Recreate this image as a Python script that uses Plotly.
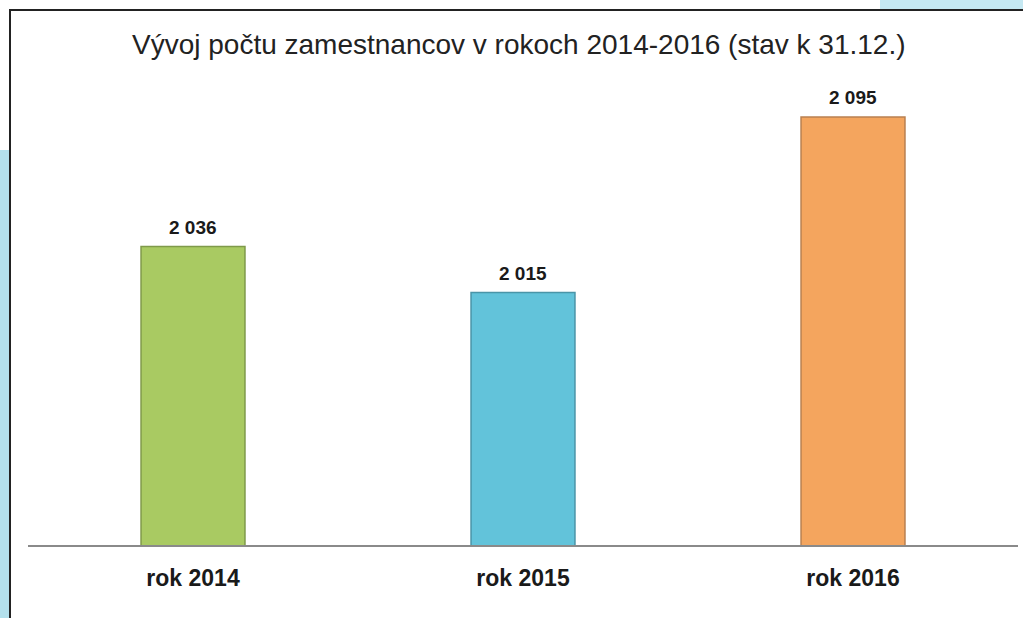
import plotly.graph_objects as go

categories = ["rok 2014", "rok 2015", "rok 2016"]
values = [2036, 2015, 2095]
colors = ["#a9ca62", "#62c3da", "#f4a55e"]
edge_colors = ["#7f9a4a", "#4a95a8", "#b98050"]
title_text = "Vývoj počtu zamestnancov v rokoch 2014-2016 (stav k 31.12.)"

W, H = 1023, 618
L, R, T, B = 28, 5, 100, 73
PW, PH = W - L - R, H - T - B


def px_x(x):
    return (x - L) / PW


def px_y(y):
    return (H - B - y) / PH


fig = go.Figure()
fig.add_trace(go.Bar(
    x=categories, y=values,
    marker=dict(color=colors, line=dict(color=edge_colors, width=1.5)),
    width=0.315,
    cliponaxis=False, hoverinfo="skip",
))

value_labels = [
    dict(x=c, y=v, xref="x", yref="y", text=f"{v:,}".replace(",", " "),
         showarrow=False, yanchor="middle", yshift=19,
         font=dict(family="Liberation Sans, Arial", size=19, color="#1a1a1a", weight="bold"))
    for c, v in zip(categories, values)
]

fig.update_layout(
    width=W, height=H,
    margin=dict(l=L, r=R, t=T, b=B),
    paper_bgcolor="white", plot_bgcolor="white",
    showlegend=False,
    font=dict(family="Liberation Sans, Arial", color="#1a1a1a"),
    xaxis=dict(
        showline=True, linecolor="#8a8a8a", linewidth=1.5,
        showgrid=False, ticks="", ticklabelstandoff=12,
        tickfont=dict(size=23, color="#1a1a1a", weight="bold"),
    ),
    yaxis=dict(range=[1900, 2102.7], visible=False, showgrid=False),
    annotations=value_labels + [dict(
        text=title_text, x=px_x(519), y=px_y(45),
        xref="paper", yref="paper", xanchor="center", yanchor="middle",
        showarrow=False, font=dict(size=28, color="#222222"),
    )],
    shapes=[
        dict(type="rect", xref="paper", yref="paper",
             x0=px_x(0), x1=px_x(9), y0=px_y(H), y1=px_y(150),
             fillcolor="#b3e0ec", line=dict(width=0), layer="below"),
        dict(type="rect", xref="paper", yref="paper",
             x0=px_x(880), x1=px_x(W), y0=px_y(9), y1=px_y(0),
             fillcolor="#c5e8f2", line=dict(width=0), layer="below"),
        dict(type="rect", xref="paper", yref="paper",
             x0=px_x(10), x1=px_x(W + 5), y0=px_y(H + 10), y1=px_y(10),
             fillcolor="rgba(0,0,0,0)", line=dict(color="#222222", width=2), layer="above"),
    ],
)

fig.write_html("out.html", config={"displayModeBar": False},
               post_script="document.body.style.margin='0';")
